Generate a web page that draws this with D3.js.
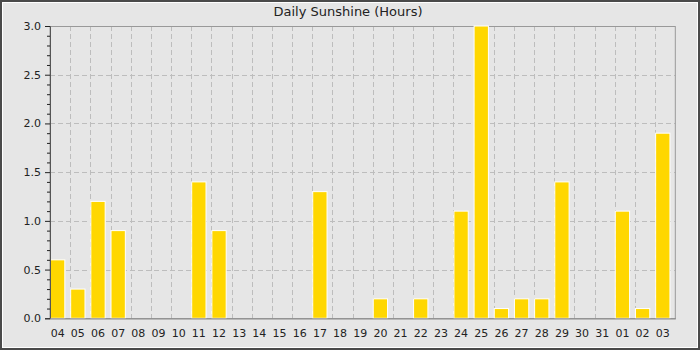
<!DOCTYPE html>
<html>
<head>
<meta charset="utf-8">
<script src="https://cdn.jsdelivr.net/npm/d3@7"></script>
<style>
  body { margin: 0; background: #e6e6e6; }
  svg { display: block; font-family: "DejaVu Sans", sans-serif; }
</style>
</head>
<body>
<div id="chart"></div>
<script>
var days = ["04","05","06","07","08","09","10","11","12","13","14","15","16","17","18","19",
            "20","21","22","23","24","25","26","27","28","29","30","31","01","02","03"];
var sunshine = [0.6, 0.3, 1.2, 0.9, 0, 0, 0, 1.4, 0.9, 0, 0, 0, 0, 1.3, 0, 0,
                0.2, 0, 0.2, 0, 1.1, 3.0, 0.1, 0.2, 0.2, 1.4, 0, 0, 1.1, 0.1, 1.9];
var yTicks = [0, 0.5, 1.0, 1.5, 2.0, 2.5, 3.0];
var title = "Daily Sunshine (Hours)";

var w = 700;
var h = 350;
// plot area edges (note: "top" is reserved on window, so use pl/pr/pt/pb)
var pl = 50, pr = 675.3, pt = 26, pb = 318.3;

var rows = days.map(function(d, i){ return { day: d, value: sunshine[i] }; });

var svg = d3.select("#chart")
  .append("svg")
  .attr("width", w)
  .attr("height", h);

// background + bevel frame
svg.append("rect")
  .attr("x", 0).attr("y", 0).attr("width", w).attr("height", h)
  .attr("fill", "#e6e6e6");
svg.append("rect")
  .attr("x", 2.5).attr("y", 2.5).attr("width", w - 5).attr("height", h - 5)
  .attr("fill", "none").attr("stroke", "#ffffff").attr("stroke-width", 1);
svg.append("rect")
  .attr("x", 1).attr("y", 1).attr("width", w - 2).attr("height", h - 2)
  .attr("fill", "none").attr("stroke", "#4a4a4a").attr("stroke-width", 2);

var x = d3.scaleBand()
  .domain(days)
  .range([pl, pr]);

var y = d3.scaleLinear()
  .domain([0, 3])
  .range([pb, pt]);

// grid
svg.append("g")
  .selectAll("line")
  .data(days.slice(1))
  .enter()
  .append("line")
  .attr("x1", function(d){ return Math.round(x(d)) + 0.5; })
  .attr("x2", function(d){ return Math.round(x(d)) + 0.5; })
  .attr("y1", pt)
  .attr("y2", pb)
  .attr("stroke", "#bdbdbd")
  .attr("stroke-dasharray", "5,3");

svg.append("g")
  .selectAll("line")
  .data(yTicks.slice(1, -1))
  .enter()
  .append("line")
  .attr("x1", pl)
  .attr("x2", pr)
  .attr("y1", function(d){ return Math.round(y(d)) + 0.5; })
  .attr("y2", function(d){ return Math.round(y(d)) + 0.5; })
  .attr("stroke", "#bdbdbd")
  .attr("stroke-dasharray", "5,3");

// plot frame
svg.append("rect")
  .attr("x", pl).attr("y", pt + 0.5)
  .attr("width", pr - pl).attr("height", pb - pt)
  .attr("fill", "none")
  .attr("stroke", "#999999");

// bars
svg.append("g")
  .selectAll("rect")
  .data(rows.filter(function(d){ return d.value > 0; }))
  .enter()
  .append("rect")
  .attr("x", function(d){ return x(d.day) + 0.5; })
  .attr("y", function(d){ return y(d.value); })
  .attr("width", x.bandwidth() * 0.71)
  .attr("height", function(d){ return y(0) - y(d.value); })
  .attr("fill", "#ffd700")
  .attr("stroke", "#ffffff")
  .attr("stroke-width", 1);

// y axis
var yAxis = d3.axisLeft(y)
  .tickValues(yTicks)
  .tickFormat(d3.format(".1f"))
  .tickSize(5)
  .tickPadding(4);

var gy = svg.append("g")
  .attr("transform", "translate(" + pl + ",0)")
  .call(yAxis);
gy.select(".domain").attr("stroke", "#555555");
gy.selectAll(".tick line").attr("stroke", "#222222");
gy.selectAll("text").attr("font-size", "11px").attr("fill", "#222222")
  .attr("font-family", "DejaVu Sans");

var gyMinor = svg.append("g")
  .attr("transform", "translate(" + pl + ",0)")
  .call(d3.axisLeft(y)
    .tickValues(d3.range(0, 31).filter(function(v){ return v % 5 != 0; })
      .map(function(v){ return v / 10; }))
    .tickFormat("")
    .tickSize(3));
gyMinor.select(".domain").remove();
gyMinor.selectAll(".tick line").attr("stroke", "#222222");

// x axis
var xAxis = d3.axisBottom(x)
  .tickSize(0)
  .tickPadding(11);

var gx = svg.append("g")
  .attr("transform", "translate(0," + pb + ")")
  .call(xAxis);
gx.select(".domain").attr("stroke", "#888888");
gx.selectAll(".tick")
  .attr("transform", function(d){
    return "translate(" + (x(d) + 0.5 + x.bandwidth() * 0.355) + ",0)";
  });
gx.selectAll("text").attr("font-size", "11px").attr("fill", "#222222")
  .attr("font-family", "DejaVu Sans");

// title
svg.append("text")
  .attr("x", 348)
  .attr("y", 16)
  .attr("text-anchor", "middle")
  .attr("font-size", "13px")
  .attr("fill", "#222222")
  .text(title);
</script>
</body>
</html>
